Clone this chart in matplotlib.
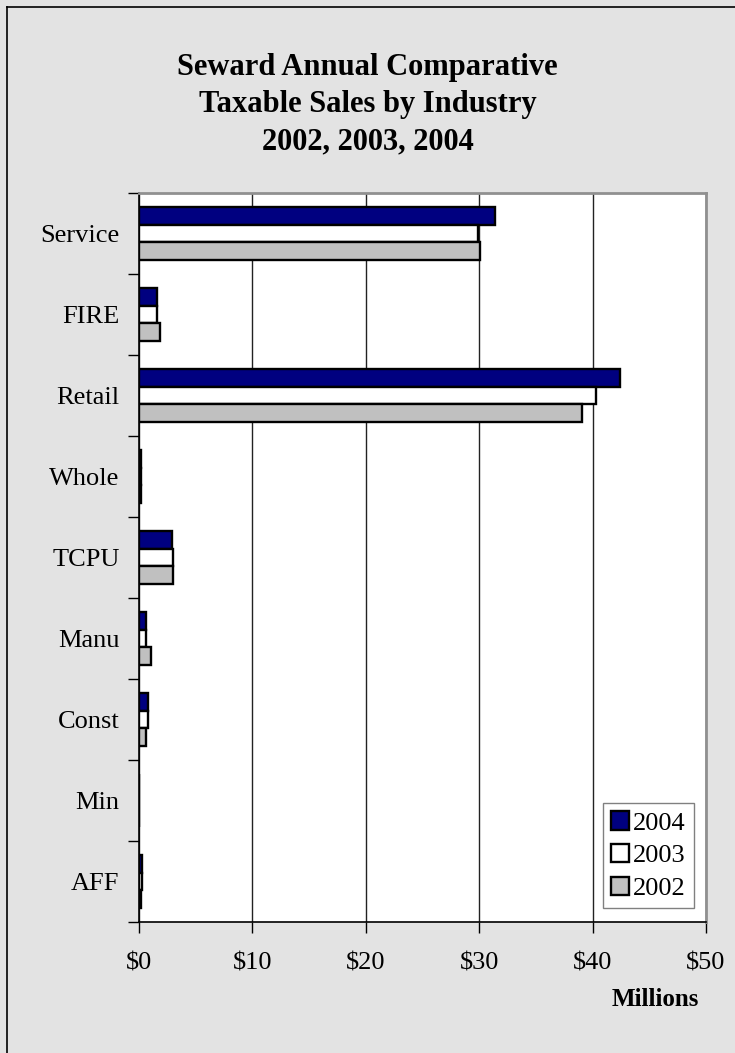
import matplotlib.pyplot as plt
import numpy as np
from matplotlib.lines import Line2D
from matplotlib.ticker import FuncFormatter, FixedLocator

# categories top to bottom
categories = ["Service", "FIRE", "Retail", "Whole", "TCPU", "Manu", "Const", "Min", "AFF"]
years = ["2004", "2003", "2002"]

# taxable sales, $ millions
sales_2004 = [31.4, 1.6, 42.4, 0.15, 2.9, 0.65, 0.8, 0.0, 0.3]
sales_2003 = [29.9, 1.55, 40.3, 0.15, 3.0, 0.65, 0.75, 0.0, 0.3]
sales_2002 = [30.1, 1.85, 39.1, 0.15, 3.0, 1.05, 0.6, 0.0, 0.15]

colors = ["#000080", "#ffffff", "#c0c0c0"]
bg = "#e3e3e3"

plt.rcParams['font.family'] = ['Liberation Serif', 'DejaVu Serif']

fig = plt.figure(figsize=(7.35, 10.53), dpi=100, facecolor=bg)
ax = fig.add_axes([139 / 735, 1 - 922 / 1053, 567 / 735, 729 / 1053])
ax.set_facecolor("white")

y = np.arange(len(categories))
h = 0.22
for k, (vals, col, lab) in enumerate(zip([sales_2004, sales_2003, sales_2002], colors, years)):
    ax.barh(y + (k - 1) * h, vals, height=h, color=col, edgecolor="black",
            linewidth=1.7, label=lab, zorder=3)

ax.set_xlim(0, 50)
ax.set_ylim(len(categories) - 0.5, -0.5)
ax.set_xticks(np.arange(0, 51, 10))
ax.xaxis.set_major_formatter(FuncFormatter(lambda v, p: f"${v:.0f}"))
ax.grid(axis="x", color="#222222", linewidth=1, zorder=0)

ax.set_yticks(y)
ax.set_yticklabels(categories)
ax.yaxis.set_minor_locator(FixedLocator(np.arange(-0.5, len(categories), 1)))
ax.tick_params(axis="y", which="major", length=0, pad=14, labelsize=19)
ax.tick_params(axis="y", which="minor", length=8, width=1, direction="out")
ax.tick_params(axis="x", which="major", length=8, width=1, direction="out", pad=14, labelsize=19)

for side in ["top", "right"]:
    ax.spines[side].set_color("#909090")
    ax.spines[side].set_linewidth(2)
for side in ["left", "bottom"]:
    ax.spines[side].set_color("black")
    ax.spines[side].set_linewidth(1.2)

fig.text(0.5, 1 - 53 / 1053, "Seward Annual Comparative\nTaxable Sales by Industry\n2002, 2003, 2004",
         ha="center", va="top", fontsize=22, fontweight="bold", linespacing=1.38)
fig.text(699 / 735, 1 - 999 / 1053, "Millions", ha="right", va="center",
         fontsize=18, fontweight="bold")

leg = ax.legend(loc="lower right", bbox_to_anchor=(0.988, 0.012), fontsize=19,
                frameon=True, fancybox=False, edgecolor="#606060",
                handlelength=0.7, handleheight=0.7, handletextpad=0.15,
                labelspacing=0.35, borderpad=0.3, borderaxespad=0.2)
leg.get_frame().set_linewidth(1)
leg.set_zorder(5)

# outer chart border (left and top only visible)
fig.add_artist(Line2D([7 / 735, 7 / 735], [0, 1 - 7 / 1053], color="black", linewidth=1.2))
fig.add_artist(Line2D([7 / 735, 1], [1 - 7 / 1053, 1 - 7 / 1053], color="black", linewidth=1.2))

fig.savefig("out.png", dpi=100, facecolor=bg)
